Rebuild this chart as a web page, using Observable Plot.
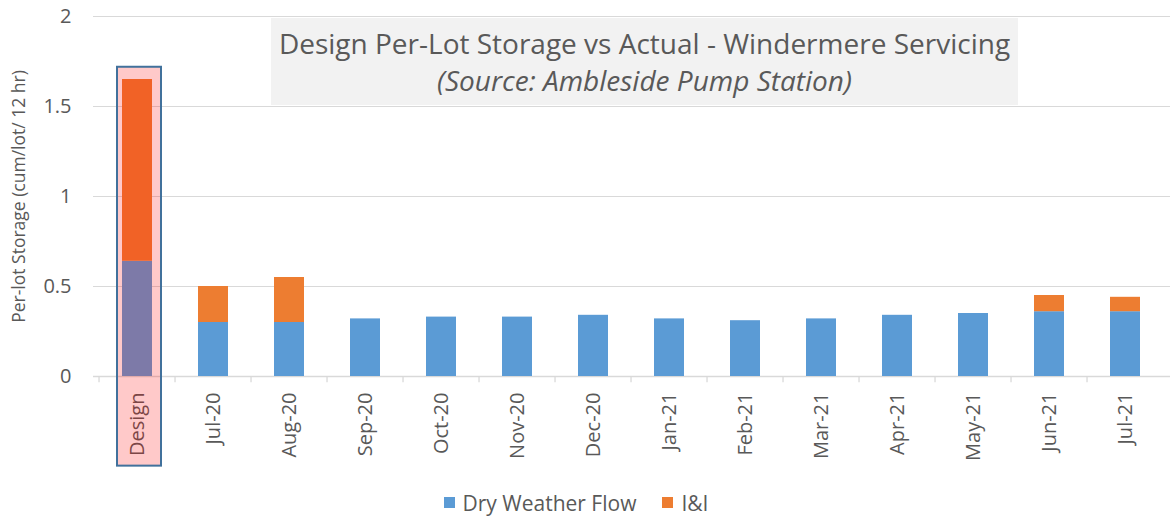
<!DOCTYPE html>
<html>
<head>
<meta charset="utf-8">
<script src="https://cdn.jsdelivr.net/npm/d3@7"></script>
<script src="https://cdn.jsdelivr.net/npm/@observablehq/plot@0.6"></script>
<style>
  html, body { margin: 0; padding: 0; background: #fff; }
  body { width: 1170px; height: 519px; position: relative; overflow: hidden; font-family: "Open Sans", sans-serif; }
  #chart { position: absolute; left: 0; top: 0; }
  #titlebox { position: absolute; left: 271px; top: 18px; width: 747px; height: 87px; background: #F2F2F2;
    color: #595959; text-align: center; font-size: 28px; line-height: 37px; padding-top: 7px; box-sizing: border-box; }
  #titlebox .sub { font-style: italic; }
  #legend { position: absolute; left: 0; top: 483px; width: 1170px; height: 39px; display: flex; justify-content: center;
    align-items: center; gap: 26px; font-size: 21px; color: #595959; padding-right: 18px; box-sizing: border-box; }
  #legend .item { display: flex; align-items: center; gap: 8px; }
  #legend .sw { width: 11px; height: 11px; display: inline-block; }
</style>
</head>
<body>
<div id="chart"></div>
<div id="titlebox"><div>Design Per-Lot Storage vs Actual - Windermere Servicing</div><div class="sub">(Source: Ambleside Pump Station)</div></div>
<div id="legend"></div>
<script>
const categories = ["Design","Jul-20","Aug-20","Sep-20","Oct-20","Nov-20","Dec-20","Jan-21","Feb-21","Mar-21","Apr-21","May-21","Jun-21","Jul-21"];
const dryWeatherFlow = [0.64,0.30,0.30,0.32,0.33,0.33,0.34,0.32,0.31,0.32,0.34,0.35,0.36,0.36];
const infiltrationInflow = [1.01,0.20,0.25,0,0,0,0,0,0,0,0,0,0.09,0.08];
const seriesNames = ["Dry Weather Flow","I&I"];
const seriesColors = ["#5B9BD5","#ED7D31"];
const yTicks = [0,0.5,1,1.5,2];
const yLabel = "Per-lot Storage (cum/lot/ 12 hr)";
const highlight = [{cat: "Design", bottom: -0.498, top: 1.718}];

const rows = [];
categories.forEach((c, i) => {
  rows.push({cat: c, series: seriesNames[0], value: dryWeatherFlow[i]});
  rows.push({cat: c, series: seriesNames[1], value: infiltrationInflow[i]});
});

const band = (1170 - 93) / categories.length;

const chart = Plot.plot({
  width: 1170,
  height: 480,
  marginTop: 16,
  marginBottom: 104,
  marginLeft: 93,
  marginRight: 0,
  style: {fontFamily: "'Open Sans', sans-serif", background: "transparent"},
  x: {domain: categories, paddingInner: 0.6, paddingOuter: 0.3},
  y: {domain: [0, 2]},
  color: {domain: seriesNames, range: seriesColors},
  marks: [
    Plot.gridY(yTicks, {stroke: "#D9D9D9", strokeOpacity: 1, strokeWidth: 1}),
    Plot.ruleY([0], {stroke: "#D9D9D9", strokeWidth: 1.3}),
    Plot.ruleX(categories, {x: d => d, dx: -band / 2, y1: 0, y2: -0.035, stroke: "#D9D9D9", strokeWidth: 1.3, clip: false}),
    Plot.barY(rows, Plot.stackY({x: "cat", y: "value", fill: "series", order: seriesNames})),
    Plot.axisX({tickSize: 0, tickPadding: 16, tickRotate: -90, fontSize: 20, color: "#595959", label: null}),
    Plot.axisY(yTicks, {tickSize: 0, tickPadding: 22, fontSize: 20, color: "#595959", tickFormat: d => String(d), label: null}),
    Plot.text([yLabel], {frameAnchor: "left", rotate: -90, dx: -74, dy: 0, textAnchor: "middle", lineAnchor: "middle", fontSize: 17.5, fill: "#595959"}),
    Plot.barY(highlight, {x: "cat", y1: "bottom", y2: "top", fill: "#FF0000", fillOpacity: 0.21,
      stroke: "#41719C", strokeWidth: 2, insetLeft: -5, insetRight: -9, clip: false})
  ]
});
document.getElementById("chart").appendChild(chart);

const legend = document.getElementById("legend");
seriesNames.forEach((s, i) => {
  const item = document.createElement("div");
  item.className = "item";
  const sw = document.createElement("span");
  sw.className = "sw";
  sw.style.background = seriesColors[i];
  const lab = document.createElement("span");
  lab.textContent = s;
  item.appendChild(sw); item.appendChild(lab);
  legend.appendChild(item);
});
</script>
</body>
</html>
